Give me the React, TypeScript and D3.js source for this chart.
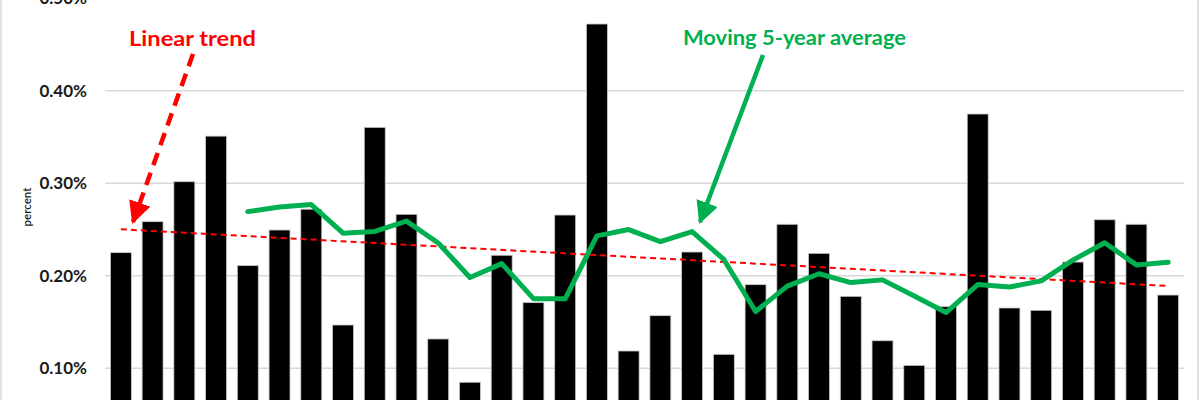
import React from "react";
import * as d3 from "d3";

const categories = Array.from({ length: 34 }, (_, i) => `Y${i + 1}`);
const barValues = [
  0.225, 0.2585, 0.3017, 0.351, 0.211, 0.2495, 0.272, 0.1468, 0.3605, 0.2665,
  0.1317, 0.0849, 0.2222, 0.171, 0.2657, 0.4722, 0.1187, 0.1569, 0.2257, 0.1151,
  0.1904, 0.2557, 0.2243, 0.1778, 0.1298, 0.1032, 0.1666, 0.3749, 0.1652, 0.1627,
  0.2149, 0.2606, 0.2557, 0.1792,
];
// moving 5-year average (starts at the 5th bar)
const movingAvg = [
  null, null, null, null, 0.2694, 0.2743, 0.277, 0.2461, 0.248, 0.2591,
  0.2355, 0.1981, 0.2132, 0.1753, 0.1751, 0.2432, 0.25, 0.2369, 0.2478, 0.2177,
  0.1614, 0.1888, 0.2022, 0.1927, 0.1956, 0.1782, 0.1603, 0.1905, 0.1879, 0.1945,
  0.2169, 0.2357, 0.2118, 0.2146,
];
const trendStart = 0.2503;
const trendEnd = 0.189;
const yTicks = [0.1, 0.2, 0.3, 0.4, 0.5];

const W = 1200;
const H = 400;
const FONT = "Lato, 'Open Sans', sans-serif";
const RED = "#ff0000";
const GREEN = "#00b050";

export default function App() {
  const x = d3
    .scaleBand<string>()
    .domain(categories)
    .range([105, 1184])
    .paddingInner(0.34)
    .paddingOuter(0.17);
  const y = d3.scaleLinear().domain([0, 0.5]).range([460.8, -1.7]);
  const cx = (i: number) => (x(categories[i]) ?? 0) + x.bandwidth() / 2;

  const maPts = movingAvg
    .map((v, i) => (v == null ? null : ([cx(i), y(v)] as [number, number])))
    .filter((p) => p != null) as [number, number][];
  const line = d3.line<[number, number]>();

  const fmt = (v: number) => d3.format(".2f")(v) + "%";

  return (
    <div style={{ position: "absolute", left: 0, top: 0 }}>
      <svg width={W} height={H} style={{ display: "block", background: "#fff" }}>
        <defs>
          <marker id="redHead" viewBox="0 0 10 10" refX="9" refY="5" markerWidth="5" markerHeight="5" orient="auto" markerUnits="strokeWidth">
            <path d="M0,0 L10,5 L0,10 z" fill={RED} />
          </marker>
          <marker id="greenHead" viewBox="0 0 10 10" refX="9" refY="5" markerWidth="5" markerHeight="5" orient="auto" markerUnits="strokeWidth">
            <path d="M0,0 L10,5 L0,10 z" fill={GREEN} />
          </marker>
        </defs>
        {/* chart border */}
        <rect x={1} y={-20} width={1197} height={460} fill="none" stroke="#d9d9d9" strokeWidth={1.5} />
        {/* gridlines */}
        {yTicks.map((t) => (
          <line key={t} x1={105} x2={1184} y1={y(t)} y2={y(t)} stroke="#d9d9d9" strokeWidth={1.5} />
        ))}
        {/* y tick labels */}
        {yTicks.map((t) => (
          <text key={"l" + t} x={87} y={y(t)} dy="0.36em" textAnchor="end" fontFamily={FONT} fontWeight={700} fontSize={17} fill="#1a1a1a">
            {fmt(t)}
          </text>
        ))}
        <text transform={`translate(31,207) rotate(-90)`} textAnchor="middle" fontFamily={FONT} fontWeight={600} fontSize={11.5} fill="#1a1a1a">
          percent
        </text>
        {/* bars */}
        {barValues.map((v, i) => (
          <rect
            key={i}
            x={x(categories[i])}
            y={y(v)}
            width={x.bandwidth()}
            height={y(0) - y(v)}
            fill="#000"
            stroke="#c8c8c8"
            strokeWidth={0.8}
          />
        ))}
        {/* linear trend */}
        <line x1={cx(0)} x2={cx(33)} y1={y(trendStart)} y2={y(trendEnd)} stroke={RED} strokeWidth={2} strokeDasharray="6,4" />
        {/* moving average */}
        <path d={line(maPts) ?? ""} fill="none" stroke={GREEN} strokeWidth={5} strokeLinejoin="round" strokeLinecap="round" />
        {/* annotations */}
        <text x={129} y={46} fontFamily={FONT} fontWeight={700} fontSize={21} fill={RED} textLength={127} lengthAdjust="spacingAndGlyphs">
          Linear trend
        </text>
        <line x1={193} y1={54} x2={133} y2={222} stroke={RED} strokeWidth={4.5} strokeDasharray="13,8" markerEnd="url(#redHead)" />
        <text x={683} y={45} fontFamily={FONT} fontWeight={700} fontSize={21} fill={GREEN} textLength={223} lengthAdjust="spacingAndGlyphs">
          Moving 5-year average
        </text>
        <line x1={763} y1={55} x2={700} y2={222} stroke={GREEN} strokeWidth={4.5} markerEnd="url(#greenHead)" />
      </svg>
    </div>
  );
}
